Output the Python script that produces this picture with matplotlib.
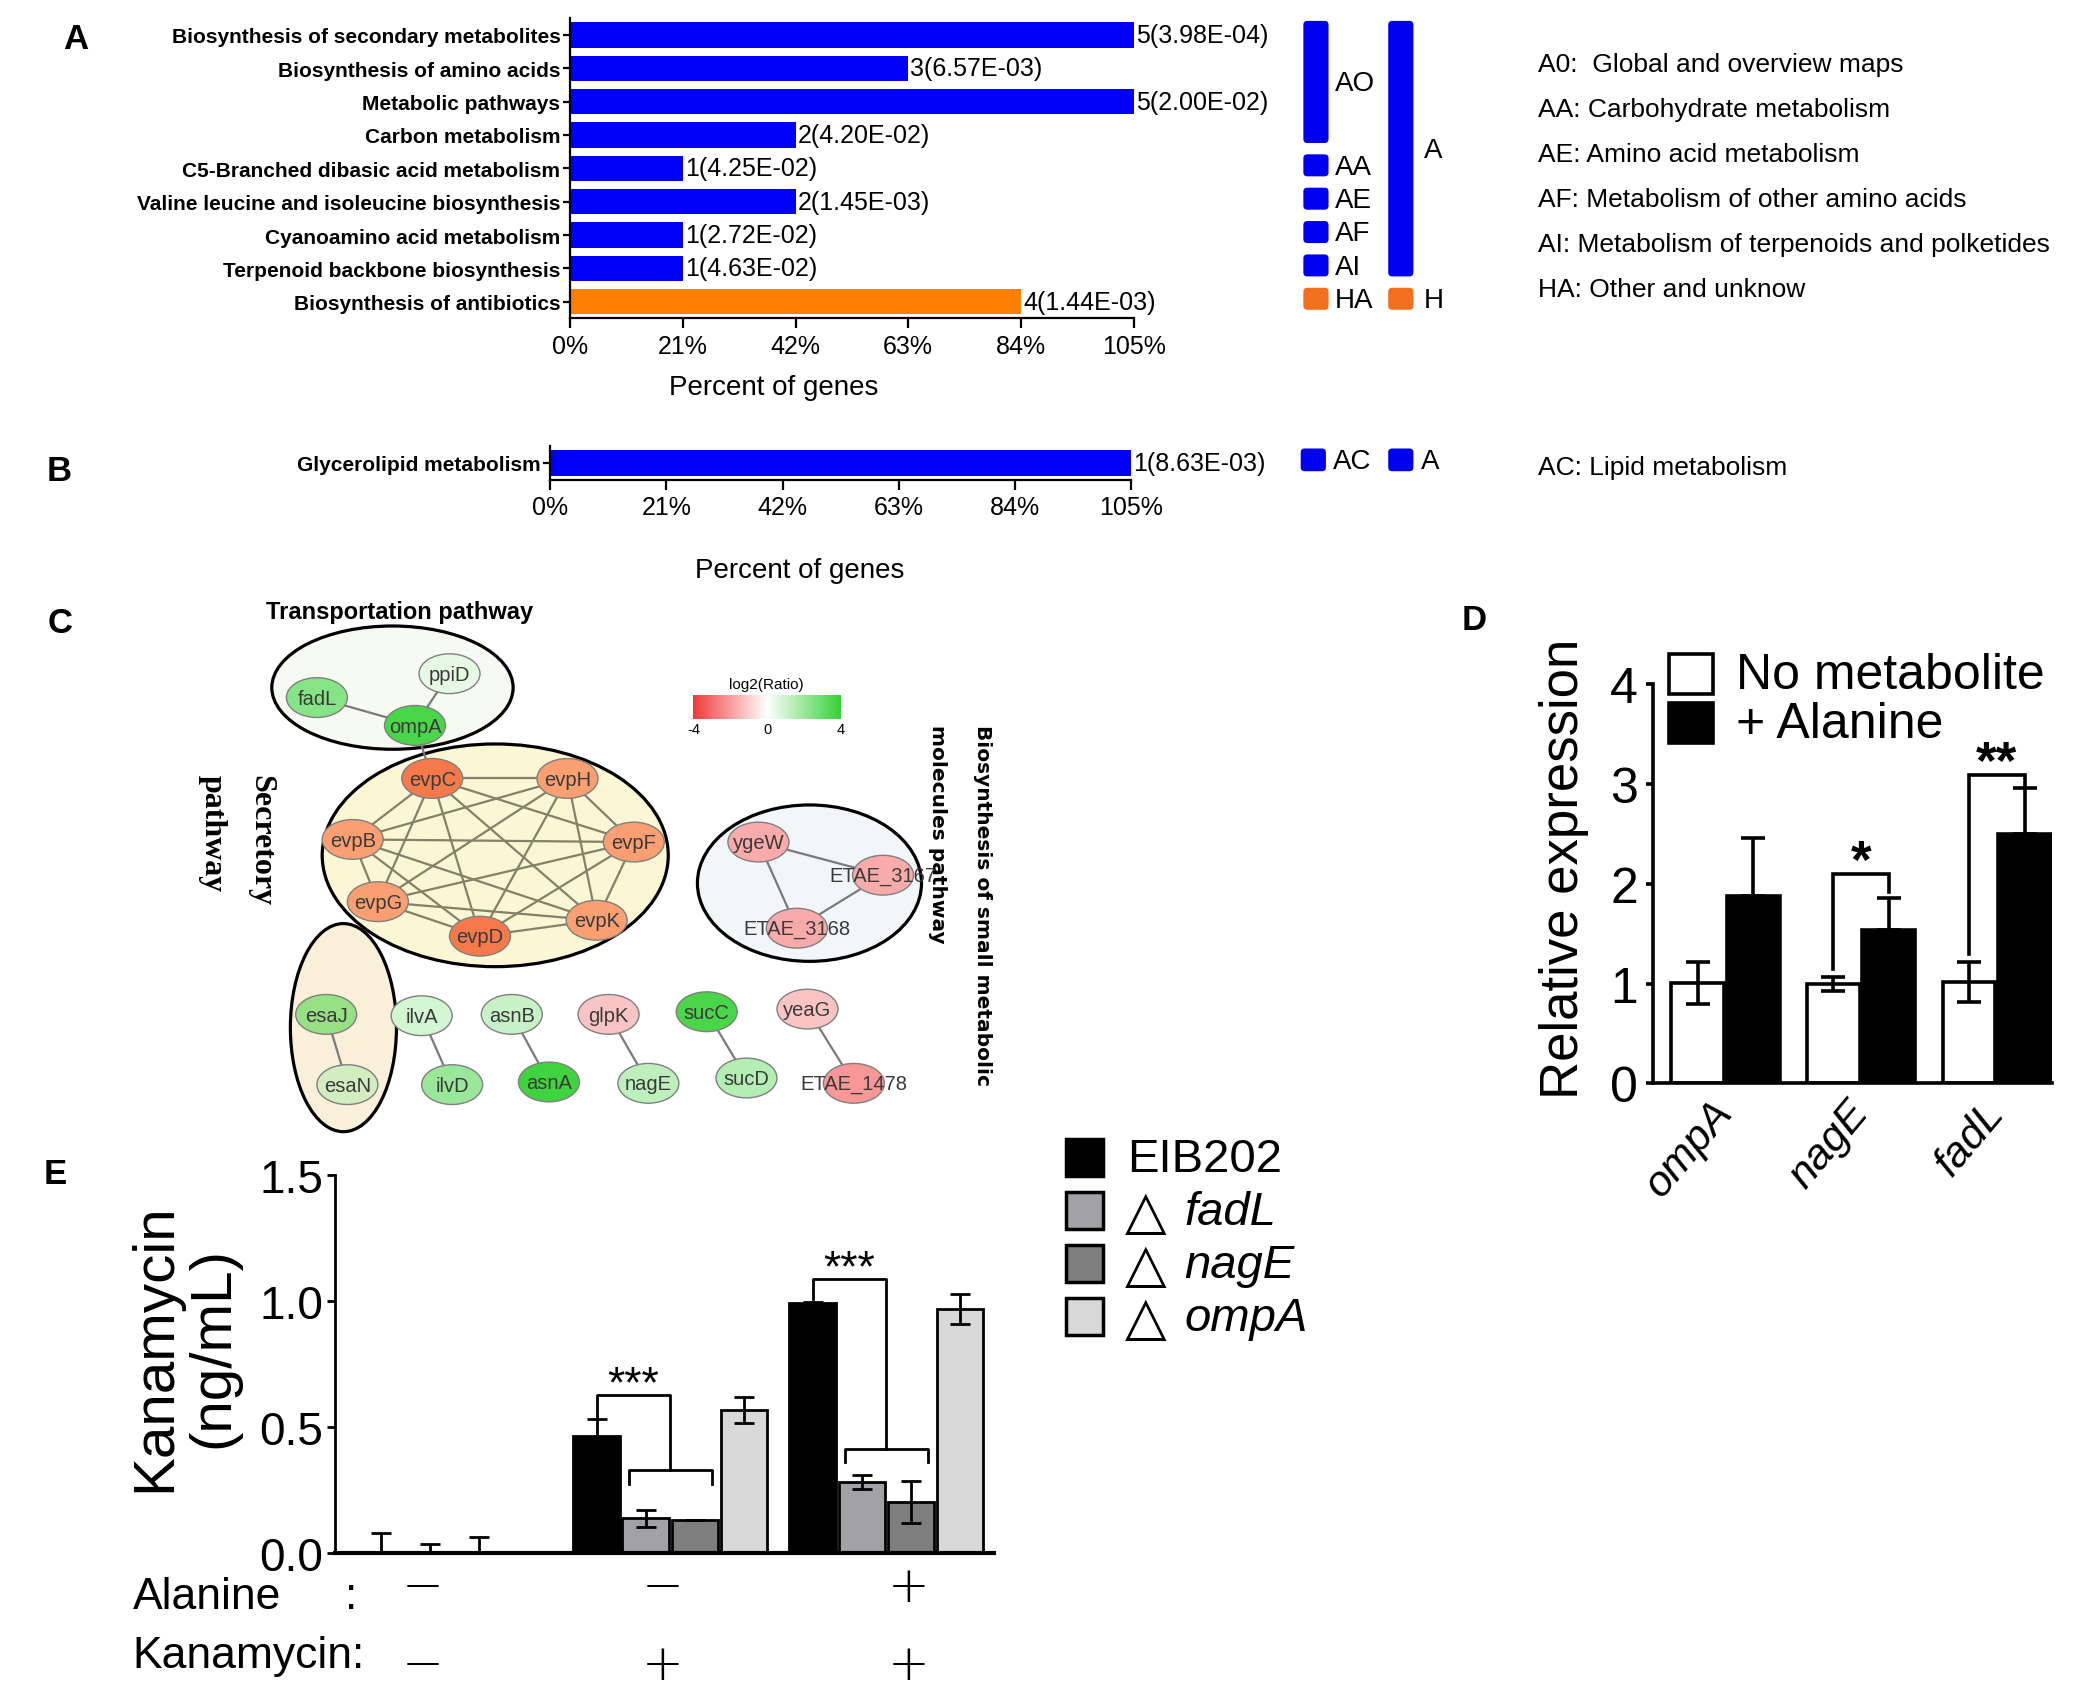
import itertools
import numpy as np
import matplotlib
matplotlib.use('Agg')
import matplotlib.pyplot as plt
from matplotlib.patches import Ellipse, Rectangle, FancyBboxPatch
from matplotlib.colors import LinearSegmentedColormap, Normalize, to_rgb

# ======================= DATA =======================
# Panel A - KEGG enrichment
a_pathways = ['Biosynthesis of secondary metabolites', 'Biosynthesis of amino acids',
              'Metabolic pathways', 'Carbon metabolism',
              'C5-Branched dibasic acid metabolism',
              'Valine leucine and isoleucine biosynthesis', 'Cyanoamino acid metabolism',
              'Terpenoid backbone biosynthesis', 'Biosynthesis of antibiotics']
a_percent = [105, 63, 105, 42, 21, 42, 21, 21, 84]
a_counts = [5, 3, 5, 2, 1, 2, 1, 1, 4]
a_pvalues = ['3.98E-04', '6.57E-03', '2.00E-02', '4.20E-02', '4.25E-02',
             '1.45E-03', '2.72E-02', '4.63E-02', '1.44E-03']
a_class = ['A', 'A', 'A', 'A', 'A', 'A', 'A', 'A', 'H']
a_sub_names = ['AO', 'AA', 'AE', 'AF', 'AI', 'HA']
a_sub_rows = [(0, 3), (4, 4), (5, 5), (6, 6), (7, 7), (8, 8)]
a_top_names = ['A', 'H']
a_top_rows = [(0, 7), (8, 8)]
a_legend = ['A0:  Global and overview maps', 'AA: Carbohydrate metabolism',
            'AE: Amino acid metabolism', 'AF: Metabolism of other amino acids',
            'AI: Metabolism of terpenoids and polketides', 'HA: Other and unknow']
pct_ticks = [0, 21, 42, 63, 84, 105]
pct_ticklabels = ['0%', '21%', '42%', '63%', '84%', '105%']

# Panel B
b_pathways = ['Glycerolipid metabolism']
b_percent = [105]
b_counts = [1]
b_pvalues = ['8.63E-03']
b_class = ['A']
b_sub_names = ['AC']
b_sub_rows = [(0, 0)]
b_top_names = ['A']
b_top_rows = [(0, 0)]
b_legend = ['AC: Lipid metabolism']

# Panel C - interaction network (log2 ratio per node)
c_nodes = ['fadL', 'ppiD', 'ompA',
           'evpC', 'evpH', 'evpB', 'evpF', 'evpG', 'evpK', 'evpD',
           'ygeW', 'ETAE_3167', 'ETAE_3168',
           'esaJ', 'esaN', 'ilvA', 'ilvD', 'asnB', 'asnA',
           'glpK', 'nagE', 'sucC', 'sucD', 'yeaG', 'ETAE_1478']
c_log2 = [2.4, 0.5, 3.6,
          -3.4, -2.3, -2.3, -2.3, -2.3, -2.3, -3.4,
          -1.7, -1.7, -1.7,
          2.5, 1.0, 0.9, 2.0, 1.1, 3.8,
          -1.2, 1.3, 3.6, 1.5, -1.2, -2.1]
c_groups = {'transport': ['fadL', 'ppiD', 'ompA'],
            'secretory': ['evpC', 'evpH', 'evpB', 'evpF', 'evpG', 'evpK', 'evpD'],
            'biosynthesis': ['ygeW', 'ETAE_3167', 'ETAE_3168'],
            'esa': ['esaJ', 'esaN']}
c_edges = ([('fadL', 'ompA'), ('ppiD', 'ompA'), ('ompA', 'evpC')]
           + list(itertools.combinations(c_groups['secretory'], 2))
           + [('ygeW', 'ETAE_3167'), ('ygeW', 'ETAE_3168'), ('ETAE_3167', 'ETAE_3168'),
              ('esaJ', 'esaN'), ('ilvA', 'ilvD'), ('asnB', 'asnA'), ('glpK', 'nagE'),
              ('sucC', 'sucD'), ('yeaG', 'ETAE_1478')])
c_cbar_ticks = [-4, 0, 4]

# Panel D - qPCR
d_genes = ['ompA', 'nagE', 'fadL']
d_series = ['No metabolite', '+ Alanine']
d_ctrl = [1.01, 1.00, 1.02]
d_ctrl_err = [0.21, 0.07, 0.20]
d_ala = [1.88, 1.54, 2.50]
d_ala_err = [0.58, 0.32, 0.46]
d_yticks = [0, 1, 2, 3, 4]
d_sig_genes = [1, 2]
d_sig_text = ['*', '**']
d_sig_top = [2.10, 3.09]
d_sig_left = [1.15, 1.30]
d_sig_right = [1.92, 2.99]

# Panel E - kanamycin uptake
e_strains = ['EIB202', 'fadL', 'nagE', 'ompA']
e_alanine = ['\u2212', '\u2212', '+']
e_kanamycin = ['\u2212', '+', '+']
e_eib202 = [0.0, 0.464, 0.990]
e_eib202_err = [0.077, 0.066, 0.006]
e_fadl = [0.0, 0.136, 0.279]
e_fadl_err = [0.034, 0.034, 0.028]
e_nage = [0.0, 0.131, 0.201]
e_nage_err = [0.063, 0.0, 0.084]
e_ompa = [0.0, 0.566, 0.968]
e_ompa_err = [0.0, 0.053, 0.060]
e_yticks = [0.0, 0.5, 1.0, 1.5]
e_yticklabels = ['0.0', '0.5', '1.0', '1.5']
e_sig_groups = [1, 2]
e_sig_top = [0.625, 1.085]
e_sig_low = [0.326, 0.413]

# ======================= STYLE / LAYOUT =======================
W, H = 1568.0, 1287.0


def R(x0, y0, x1, y1):
    return [x0 / W, 1 - y1 / H, (x1 - x0) / W, (y1 - y0) / H]


SANS = ['Liberation Sans', 'DejaVu Sans']
NARROW = ['Liberation Sans Narrow', 'Liberation Sans', 'DejaVu Sans']
SERIF = ['Liberation Serif', 'DejaVu Serif']
plt.rcParams['font.family'] = SANS

class_color = {'A': '#0000FA', 'H': '#FF8000'}
box_color = {'A': '#0000F0', 'H': '#F26F1E'}

fig = plt.figure(figsize=(20.79, 17.06), dpi=100)
ov = fig.add_axes([0, 0, 1, 1])
ov.set_xlim(0, W)
ov.set_ylim(H, 0)
ov.axis('off')


def ax2ov(ax, x, y):
    return ov.transData.inverted().transform(ax.transData.transform((x, y)))


# panel letters
for letter, (lx, ly) in zip('ABCDE', [(57, 30), (45, 356), (45, 470), (1112, 468), (42, 886)]):
    ov.text(lx, ly, letter, fontsize=25, fontweight='bold', ha='center', va='center')


def draw_categories(ax, names, rows, x0, x1, xlab):
    for name, (r0, r1) in zip(names, rows):
        _, ya = ax2ov(ax, 0, r0 - 0.42)
        _, yb = ax2ov(ax, 0, r1 + 0.24)
        ov.add_patch(FancyBboxPatch((x0, ya), x1 - x0, yb - ya,
                                    boxstyle='round,pad=0,rounding_size=3',
                                    fc=box_color[name[0]], ec='none'))
        ov.text(xlab, (ya + yb) / 2 + 1, name, fontsize=20, ha='left', va='center')


def enrichment_panel(rect, names, percents, counts, pvals, classes, xlabel_pad, xlabel_x):
    ax = fig.add_axes(rect)
    ax.set_facecolor('none')
    rows = np.arange(len(names))
    ax.barh(rows, percents, height=0.76, color=[class_color[c] for c in classes], zorder=2)
    ax.set_xlim(0, 105)
    ax.set_ylim(len(names) - 0.5, -0.5)
    ax.set_yticks(rows)
    ax.set_yticklabels(names, fontsize=15, fontweight='bold')
    ax.set_xticks(pct_ticks)
    ax.set_xticklabels(pct_ticklabels, fontsize=18)
    for s in ['top', 'right']:
        ax.spines[s].set_visible(False)
    for s in ['left', 'bottom']:
        ax.spines[s].set_linewidth(1.6)
    ax.tick_params(axis='y', length=5, width=1.6, pad=2)
    ax.tick_params(axis='x', length=7, width=1.6, pad=4)
    ax.set_xlabel('Percent of genes', fontsize=20, labelpad=xlabel_pad)
    ax.xaxis.label.set_x(xlabel_x)
    for r, p, c, pv in zip(rows, percents, counts, pvals):
        ax.text(p + 0.4, r, f'{c}({pv})', fontsize=18, ha='left', va='center')
    return ax


# ---------------- Panel A ----------------
axA = enrichment_panel(R(430, 14.5, 855, 241), a_pathways, a_percent, a_counts,
                       a_pvalues, a_class, 12, 0.362)
draw_categories(axA, a_sub_names, a_sub_rows, 983, 1002, 1007)
draw_categories(axA, a_top_names, a_top_rows, 1047, 1066, 1074)
for i, t in enumerate(a_legend):
    ov.text(1160, 49 + i * 34, t, fontsize=19, ha='left', va='center')

# ---------------- Panel B ----------------
axB = enrichment_panel(R(415, 337, 853, 363), b_pathways, b_percent, b_counts,
                       b_pvalues, b_class, 27, 0.429)
draw_categories(axB, b_sub_names, b_sub_rows, 981, 1000, 1005)
draw_categories(axB, b_top_names, b_top_rows, 1047, 1066, 1072)
for i, t in enumerate(b_legend):
    ov.text(1160, 353 + i * 34, t, fontsize=19, ha='left', va='center')

# ---------------- Panel C ----------------
cmap = LinearSegmentedColormap.from_list('rwg', ['#F03A3A', '#FFFFFF', '#36D236'])
norm = Normalize(-4, 4)
node_pos = {'fadL': (239, 527), 'ppiD': (339, 509), 'ompA': (313, 548),
            'evpC': (326, 588), 'evpH': (428, 588), 'evpB': (266, 634), 'evpF': (478, 636),
            'evpG': (285, 681), 'evpK': (450, 695), 'evpD': (362, 707),
            'ygeW': (572, 636), 'ETAE_3167': (666, 661), 'ETAE_3168': (601, 701),
            'esaJ': (246, 766), 'esaN': (262, 819), 'ilvA': (318, 767), 'ilvD': (341, 819),
            'asnB': (386, 766), 'asnA': (414, 817), 'glpK': (459, 766), 'nagE': (489, 818),
            'sucC': (533, 764), 'sucD': (563, 814), 'yeaG': (609, 762), 'ETAE_1478': (644, 818)}
group_shape = {'esa': ((259, 776), 80, 157, '#FAEFD8'),
               'transport': ((296, 519.5), 182, 93, '#F6FAF3'),
               'secretory': ((373.5, 646), 261, 168, '#FBF6D4'),
               'biosynthesis': ((610.5, 667), 169, 118, '#F3F6F8')}
group_tint = {'secretory': ('#FFC830', 0.30), 'esa': ('#E8D890', 0.22)}
node_group = {n: g for g, ns in c_groups.items() for n in ns}

for g in ['esa', 'transport', 'secretory', 'biosynthesis']:
    (cx, cy), w, h, fc = group_shape[g]
    ov.add_patch(Ellipse((cx, cy), w, h, fc=fc, ec='black', lw=2.3, zorder=1))

for a, b in c_edges:
    (x1, y1), (x2, y2) = node_pos[a], node_pos[b]
    ecol = '#828268' if node_group.get(a) == 'secretory' and node_group.get(b) == 'secretory' else '#7A7A7A'
    ov.plot([x1, x2], [y1, y2], color=ecol, lw=1.6, zorder=2, solid_capstyle='butt')

for name, val in zip(c_nodes, c_log2):
    x, y = node_pos[name]
    col = np.array(to_rgb(cmap(norm(val))))
    g = node_group.get(name)
    if g in group_tint:
        tcol, k = group_tint[g]
        col = (1 - k) * col + k * np.array(to_rgb(tcol))
    ov.add_patch(Ellipse((x, y), 46, 30, fc=col, ec='#808080', lw=1.0, zorder=3))
    ov.text(x, y + 0.5, name, fontsize=14.5, color='#3A3A3A', ha='center', va='center', zorder=4)

ov.text(301, 462, 'Transportation pathway', fontsize=17, fontweight='bold',
        ha='center', va='center')
ov.text(197, 585, 'Secretory', family=SERIF, fontweight='bold', fontsize=23,
        rotation=-90, rotation_mode='anchor', ha='left', va='center')
ov.text(160, 585, 'pathway', family=SERIF, fontweight='bold', fontsize=23,
        rotation=-90, rotation_mode='anchor', ha='left', va='center')
ov.text(741, 547, 'Biosynthesis of small metabolic', family=['DejaVu Sans'],
        fontweight='bold', fontsize=14.5, rotation=-90, rotation_mode='anchor',
        ha='left', va='center', zorder=5)
ov.text(707, 547, 'molecules pathway', family=['DejaVu Sans'],
        fontweight='bold', fontsize=14.5, rotation=-90, rotation_mode='anchor',
        ha='left', va='center', zorder=5)

cax = fig.add_axes(R(523, 525, 634, 543))
cax.imshow(np.linspace(-4, 4, 256).reshape(1, -1), cmap=cmap, norm=norm, aspect='auto')
cax.set_xticks([])
cax.set_yticks([])
for s in cax.spines.values():
    s.set_visible(False)
ov.text(578, 517, 'log2(Ratio)', fontsize=11, ha='center', va='center')
for t in c_cbar_ticks:
    ov.text(523 + (t + 4) / 8 * 111, 551, str(t), fontsize=10.5, ha='center', va='center')

# ---------------- Panel D ----------------
axD = fig.add_axes(R(1247, 517, 1548, 818))
axD.set_facecolor('none')
xg = np.arange(len(d_genes))
off, bw = 0.205, 0.39
axD.bar(xg - off, d_ctrl, bw, color='white', edgecolor='black', linewidth=2.6,
        zorder=2, label=d_series[0])
axD.bar(xg + off, d_ala, bw, color='black', edgecolor='black', linewidth=2.6,
        zorder=2, label=d_series[1])
axD.errorbar(xg - off, d_ctrl, yerr=d_ctrl_err, fmt='none', ecolor='black',
             elinewidth=2.6, capsize=8.5, capthick=2.6, zorder=3)
axD.errorbar(xg + off, d_ala, yerr=[np.zeros(len(d_ala)), d_ala_err], fmt='none',
             ecolor='black', elinewidth=2.6, capsize=8.5, capthick=2.6, zorder=3)
axD.set_xlim(-0.53, 2.41)
axD.set_ylim(0, 4)
axD.set_yticks(d_yticks)
axD.set_yticklabels([str(t) for t in d_yticks])
axD.tick_params(axis='y', length=5, width=2.6, labelsize=36, pad=6)
axD.set_xticks(xg)
axD.set_xticklabels(d_genes, rotation=50, ha='right', va='center',
                    rotation_mode='anchor', fontstyle='italic', fontsize=31)
axD.tick_params(axis='x', length=0, pad=16)
for s in ['top', 'right']:
    axD.spines[s].set_visible(False)
for s in ['left', 'bottom']:
    axD.spines[s].set_linewidth(2.6)
axD.set_ylabel('Relative expression', fontsize=38, va='center')
axD.yaxis.set_label_coords(-0.223, 0.54)
for gi, txt, top, yl, yr in zip(d_sig_genes, d_sig_text, d_sig_top, d_sig_left, d_sig_right):
    xl, xr = gi - off, gi + off
    axD.plot([xl, xl, xr, xr], [yl, top, top, yr], color='black', lw=2.6,
             solid_joinstyle='miter', clip_on=False, zorder=4)
    axD.text(gi, top - 0.14, txt, fontsize=38, fontweight='bold', ha='center',
             va='bottom')
# legend D
for i, (lab, fc) in enumerate(zip(d_series, ['white', 'black'])):
    yc = 509 + i * 37
    ov.add_patch(Rectangle((1259, yc - 15), 33, 30, fc=fc, ec='black', lw=2.6, zorder=5))
    ov.text(1309, yc + 1, lab, fontsize=36, ha='left', va='center')

# ---------------- Panel E ----------------
axE = fig.add_axes(R(253, 887, 750, 1172))
axE.set_facecolor('none')
gap = 4.4
ng = len(e_alanine)
e_vals = [e_eib202, e_fadl, e_nage, e_ompa]
e_errs = [e_eib202_err, e_fadl_err, e_nage_err, e_ompa_err]
e_colors = ['#000000', '#A2A2A6', '#7E7E7E', '#D8D8D8']
for j, (vals, errs, col, lab) in enumerate(zip(e_vals, e_errs, e_colors, e_strains)):
    xs = np.arange(ng) * gap + j
    axE.bar(xs, vals, 0.95, color=col, edgecolor='black', linewidth=2, zorder=2, label=lab)
    lower = [min(v, e) for v, e in zip(vals, errs)]
    axE.errorbar(xs, vals, yerr=[lower, errs], fmt='none', ecolor='black',
                 elinewidth=2, capsize=7, capthick=2, zorder=3)
axE.set_xlim(-0.92, 12.5)
axE.set_ylim(0, 1.5)
axE.set_yticks(e_yticks)
axE.set_yticklabels(e_yticklabels, family=NARROW)
axE.tick_params(axis='y', length=6, width=2, labelsize=33, pad=3)
axE.set_xticks([])
for s in ['top', 'right']:
    axE.spines[s].set_visible(False)
axE.spines['left'].set_linewidth(2)
axE.spines['bottom'].set_linewidth(3)
axE.set_ylabel('Kanamycin\n(ng/mL)', fontsize=42, va='center', linespacing=1.1)
axE.yaxis.set_label_coords(-0.229, 0.545)
for g, top, low in zip(e_sig_groups, e_sig_top, e_sig_low):
    x0 = g * gap
    xm = x0 + 1.5
    y_left = e_eib202[g] + e_eib202_err[g] + 0.01
    axE.plot([x0, x0, xm, xm], [y_left, top, top, low], color='black', lw=2,
             clip_on=False, zorder=4)
    axE.plot([x0 + 0.65, x0 + 0.65, x0 + 2.35, x0 + 2.35],
             [low - 0.055, low, low, low - 0.055], color='black', lw=2, zorder=4)
    axE.text(x0 + 0.75, top - 0.04, '***', fontsize=32, ha='center', va='bottom')
# condition rows
sign_x = [0.85, 5.75, 10.75]
ov.text(100, 1205, 'Alanine', family=NARROW, fontsize=32, ha='left', va='center')
ov.text(265, 1205, ':', family=NARROW, fontsize=32, ha='center', va='center')
ov.text(100, 1250, 'Kanamycin:', family=NARROW, fontsize=32, ha='left', va='center')
for sx, s1, s2 in zip(sign_x, e_alanine, e_kanamycin):
    cx = ax2ov(axE, sx, 0)[0]
    ov.text(cx, 1198, s1, family=['DejaVu Sans'], fontweight=200, fontsize=36,
            ha='center', va='center')
    ov.text(cx, 1257, s2, family=['DejaVu Sans'], fontweight=200, fontsize=36,
            ha='center', va='center')
# legend E
for i, (lab, col) in enumerate(zip(e_strains, e_colors)):
    yc = 874 + i * 40
    ov.add_patch(Rectangle((804, yc - 14), 28, 28, fc=col, ec='black', lw=2.5, zorder=5))
    if i == 0:
        ov.text(850, yc + 1, lab, fontsize=34, ha='left', va='center')
    else:
        ov.text(848, yc + 1, '\u25b3', family=['DejaVu Sans'], fontsize=39,
                ha='left', va='center')
        ov.text(893, yc + 1, lab, fontsize=34, fontstyle='italic', ha='left', va='center')

fig.savefig('out.png', dpi=100)
